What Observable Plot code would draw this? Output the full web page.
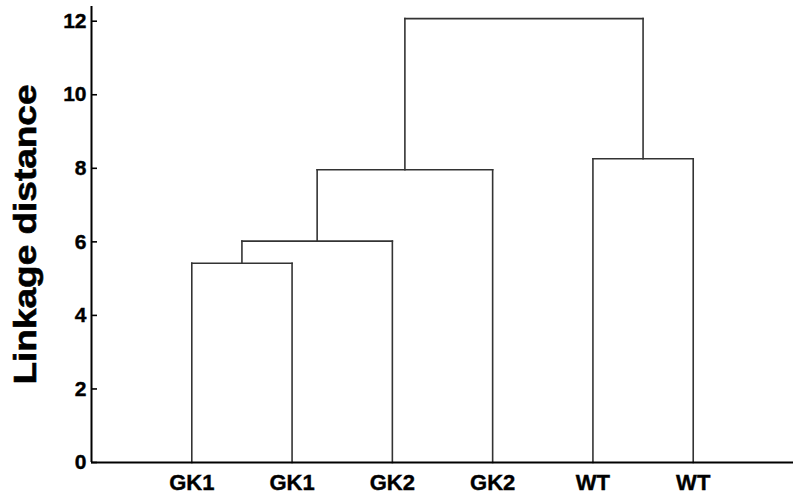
<!DOCTYPE html>
<html>
<head>
<meta charset="utf-8">
<script src="https://cdn.jsdelivr.net/npm/d3@7"></script>
<script src="https://cdn.jsdelivr.net/npm/@observablehq/plot@0.6"></script>
<style>
  html, body { margin: 0; padding: 0; background: #fff; }
  svg { display: block; }
</style>
</head>
<body>
<div id="chart"></div>
<script>
// Leaves (left to right) of the dendrogram
const leafLabels = ["GK1", "GK1", "GK2", "GK2", "WT", "WT"];
// Merges: children indices (< 6 are leaves, >= 6 are earlier merges), and linkage heights
const mergeLeft  = [0, 6, 7, 4, 8];
const mergeRight = [1, 2, 3, 5, 9];
const mergeHeight = [5.42, 6.02, 7.96, 8.26, 12.07];
const yTicks = [0, 2, 4, 6, 8, 10, 12];
const yTitle = "Linkage distance";

// Build node positions: leaves at x = 1..n, height 0
const nodeX = leafLabels.map((_, i) => i + 1);
const nodeY = leafLabels.map(() => 0);
const segments = [];
mergeLeft.forEach((l, k) => {
  const r = mergeRight[k], h = mergeHeight[k];
  const xl = nodeX[l], xr = nodeX[r];
  segments.push({x1: xl, y1: nodeY[l], x2: xl, y2: h});
  segments.push({x1: xl, y1: h, x2: xr, y2: h});
  segments.push({x1: xr, y1: nodeY[r], x2: xr, y2: h});
  nodeX.push((xl + xr) / 2);
  nodeY.push(h);
});

const font = "'Liberation Sans', Arial, Helvetica, sans-serif";

const chart = Plot.plot({
  width: 800,
  height: 501,
  marginLeft: 91,
  marginRight: 7,
  marginTop: 6,
  marginBottom: 39,
  style: {fontFamily: font, background: "#fff", color: "#000"},
  x: {domain: [0, leafLabels.length + 1]},
  y: {domain: [0, 12.4]},
  marks: [
    Plot.link(segments, {x1: "x1", y1: "y1", x2: "x2", y2: "y2", stroke: "#333", strokeWidth: 1.6, strokeLinecap: "square"}),
    Plot.axisY({ticks: yTicks, tickSize: -6, tickPadding: 11, tickFormat: d => d, label: null,
      fontSize: 21, fontWeight: "bold", stroke: "#000", strokeWidth: 1.6}),
    Plot.axisX({ticks: nodeX.slice(0, leafLabels.length), tickSize: 0, tickPadding: 12,
      tickFormat: d => leafLabels[d - 1], label: null, fontSize: 22, fontWeight: "bold"}),
    Plot.ruleX([0], {stroke: "#000", strokeWidth: 2}),
    Plot.ruleY([0], {stroke: "#000", strokeWidth: 2}),
    Plot.text([yTitle], {frameAnchor: "left", rotate: -90, dx: -66, lineAnchor: "middle", textAnchor: "middle",
      fontSize: 32, fontWeight: "bold", fill: "#000", text: d => d})
  ]
});

d3.select(chart).selectAll("text").each(function() {
  const t = this.textContent;
  const sel = d3.select(this).style("font-family", font).style("font-weight", "bold")
    .style("fill", "#000").style("stroke", "#000").style("stroke-width", "0.4px");
  if (t === yTitle) {
    sel.style("font-size", "32px").style("stroke-width", "0.6px")
      .attr("textLength", 300).attr("lengthAdjust", "spacingAndGlyphs");
  } else if (leafLabels.includes(t)) {
    sel.style("font-size", "22px");
  } else {
    sel.style("font-size", "21px");
  }
});

document.getElementById("chart").appendChild(chart);
</script>
</body>
</html>
